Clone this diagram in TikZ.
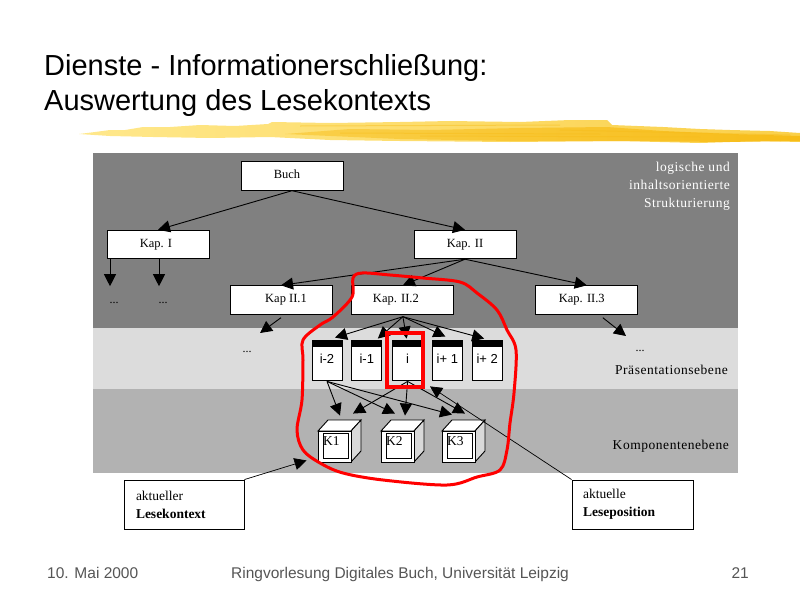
\documentclass[tikz,border=0pt]{standalone}
\usepackage{fontspec}
\setmainfont{Liberation Serif}
\setsansfont{Liberation Sans}
\usetikzlibrary{arrows.meta,positioning,calc}
\definecolor{banddark}{HTML}{808080}
\definecolor{bandlight}{HTML}{DCDCDC}
\definecolor{bandmid}{HTML}{B2B2B2}
\definecolor{brushl}{HTML}{FFE88C}
\definecolor{brushr}{HTML}{FAD04A}
\definecolor{brushd}{HTML}{F7BC18}
\definecolor{fussgrau}{HTML}{555555}
\newcommand{\schub}[3]{\kern#1pt\raisebox{#2pt}{#3}\kern-#1pt}
\tikzset{
  kap/.style    = {rectangle, draw=black, fill=white, line width=0.9pt, minimum width=102pt, minimum height=28.5pt,
                   inner sep=0pt, font=\fontsize{12.5}{13}\selectfont},
  seite/.style  = {rectangle, draw=black, fill=white, minimum width=30pt, minimum height=40pt,
                   inner sep=0pt, line width=0.8pt, font=\sffamily\fontsize{13}{15}\selectfont},
  ebene/.style  = {align=right, anchor=east, inner sep=0pt,
                   font=\addfontfeature{LetterSpace=4}\fontsize{13.5}{18}\selectfont},
  punkte/.style = {inner sep=0pt, font=\fontsize{12}{13}\selectfont},
  hinweis/.style = {rectangle, draw=black, fill=white, text width=120pt, minimum height=49pt, inner sep=0pt,
                   line width=0.9pt, align=left, font=\fontsize{13.5}{18}\selectfont},
  fuss/.style   = {inner sep=0pt, text=fussgrau, font=\sffamily\fontsize{15.5}{18}\selectfont},
  fl/.style     = {-{Triangle[length=12pt,width=12pt]}, line width=0.9pt, black},
  flt/.style    = {fl, line width=0.7pt},
}

\begin{document}
\begin{tikzpicture}[x=1pt,y=-1pt]
  \useasboundingbox (0,0) rectangle (800,600);

  % title and brush
  \node[anchor=west, align=left, inner sep=0pt, font=\sffamily\fontsize{29}{35}\selectfont] (titel) at (44,85)
    {Dienste - Informationerschließung:\\Auswertung des Lesekontexts};
  \shade[left color=brushl, right color=brushr]
    (79,134) -- (95,132) -- (110,130) -- (125,130) -- (143,127) -- (170,127) -- (200,125) -- (235,126) -- (268,124)
    -- (272,122) -- (330,123) -- (400,122) -- (450,121) -- (520,122) -- (570,120) -- (607,120) -- (612,125) -- (663,127)
    -- (700,129) -- (730,130) -- (770,131) -- (800,133)
    -- (800,142) -- (760,141) -- (700,143) -- (620,141) -- (510,142) -- (400,141) -- (330,140) -- (270,137) -- (210,138)
    -- (153,137) -- (110,136) -- cycle;
  \shade[left color=brushr, right color=brushd]
    (285,134) -- (350,129) -- (430,130) -- (520,128) -- (607,127) -- (663,131) -- (730,134) -- (800,136) -- (800,141)
    -- (720,142) -- (640,141) -- (510,141) -- (400,139) -- cycle;
  \foreach \xa/\xb/\ya/\yb in {300/560/126/125,420/700/136/137,560/790/130/135,340/600/133/134} {
    \draw[brushd, opacity=0.45, line width=1pt] (\xa,\ya) -- (\xb,\yb);
  }

  % bands
  \fill[banddark]  (93,153) rectangle (738,328);
  \fill[bandlight] (93,328) rectangle (738,389);
  \fill[bandmid]   (93,389) rectangle (738,473);

  % chapters
  \node[kap] (buch) at (292,176) {\schub{-5}{4}{Buch}};
  \node[kap] (kapi) at (158,244.5) {\schub{-2}{1}{Kap. I}};
  \node[kap] (kapii) at (465,244.5) {\schub{0}{1}{Kap. II}};
  \node[kap] (kapiia) at (281,300) {\schub{5}{4}{Kap II.1}};
  \node[kap, right=19pt of kapiia] (kapiib) {\schub{-7}{2}{Kap. II.2}};
  \node[kap, right=81pt of kapiib] (kapiic) {\schub{-5}{2}{Kap. II.3}};

  % pages
  \node[seite] (pa) at (327,360) {\schub{0}{2}{i-2}};
  \node[seite, right=9pt of pa] (pb) {\schub{0}{2}{i-1}};
  \node[seite, right=10pt of pb] (pc) {\schub{0}{2}{i}};
  \node[seite, right=9pt of pc] (pd) {\schub{0}{2}{i+ 1}};
  \node[seite, right=9pt of pd] (pe) {\schub{0}{2}{i+ 2}};
  \foreach \p in {pa,pb,pc,pd,pe}
    \fill[black] (\p.north west) rectangle ([yshift=-7pt]\p.north east);

  % components
  \foreach \n/\x/\t in {ka/318/K1,kb/381/K2,kc/442/K3} {
    \fill[white, draw=black, line width=0.9pt] (\x,431) -- ++(10,-11) -- ++(33,0) -- ++(-10,11) -- cycle;
    \fill[black!15, draw=black, line width=0.9pt] (\x+33,431) -- ++(10,-11) -- ++(0,31) -- ++(-10,11) -- cycle;
    \node[rectangle, draw=black, line width=0.9pt, fill=white, minimum width=33pt, minimum height=31pt, inner sep=0pt] (\n) at (\x+16.5,446.5) {};
    \node[rectangle, draw=black, line width=0.8pt, minimum width=25pt, minimum height=25pt, inner sep=0pt] (\n i) at (\x+17.5,445.5) {};
    \node[anchor=west, inner sep=0pt, font=\fontsize{13.5}{14}\selectfont] (\n t) at (\x+5,441.5) {\t};
  }

  % band labels and loose ends
  \node[ebene, text=white] (logik) at (730,186) {logische und\\inhaltsorientierte\\Strukturierung};
  \node[ebene] (praes) at (728,370) {Präsentationsebene};
  \node[ebene] (komp) at (729,446) {Komponentenebene};
  \node[punkte] (da) at (114,303) {...};
  \node[punkte] (db) at (163,303) {...};
  \node[punkte] (dc) at (247,352) {...};
  \node[punkte] (dd) at (640,351) {...};
  \coordinate (ec) at (260,333);
  \coordinate (ed) at (626,336);

  % notes
  \node[hinweis] (ktx) at (184,504.5) {\hspace*{12pt}aktueller\\\hspace*{12pt}\textbf{Lesekontext}};
  \node[hinweis, text width=121pt] (pos) at (632.5,504.5) {\hspace*{11pt}aktuelle\\\hspace*{11pt}\textbf{Leseposition}};

  \draw[fl] (buch.south) -- (kapi.north);
  \draw[fl] (buch.south) -- (kapii.north);
  \draw[fl] ([xshift=-48pt]kapi.south) -- ([xshift=-48pt,yshift=-27pt]kapi.south);
  \draw[fl] ([xshift=1pt]kapi.south) -- ([xshift=1pt,yshift=-27pt]kapi.south);
  \draw[fl] (kapii.south) -- (kapiia.north);
  \draw[fl] (kapii.south) -- (kapiib.north);
  \draw[fl] (kapii.south) -- (kapiic.north);
  \draw[fl] ([yshift=-3pt]kapiia.south) -- (ec);
  \draw[fl] ([xshift=16pt,yshift=-3pt]kapiic.south) -- (ed);

  \draw[fl] ([yshift=-2pt]kapiib.south) -- ([xshift=8pt,yshift=2pt]pa.north);
  \draw[fl] ([yshift=-2pt]kapiib.south) -- ([xshift=11pt,yshift=1pt]pb.north);
  \draw[fl] ([yshift=-2pt]kapiib.south) -- ([xshift=-1pt,yshift=1pt]pc.north);
  \draw[fl] ([yshift=-2pt]kapiib.south) -- ([xshift=-2pt,yshift=3pt]pd.north);
  \draw[fl] ([yshift=-2pt]kapiib.south) -- ([xshift=-3pt,yshift=1pt]pe.north);

  \draw[fl] ([yshift=-1pt]pa.south) -- ([xshift=5.5pt,yshift=15pt]ka.north);
  \draw[fl] ([yshift=-1pt]pa.south) -- ([xshift=-2.5pt,yshift=17pt]kb.north);
  \draw[fl] ([yshift=-1pt]pa.south) -- ([xshift=-6.5pt,yshift=16pt]kc.north);
  \draw[fl] ([yshift=-1pt]pc.south) -- ([xshift=18.5pt,yshift=17pt]ka.north);
  \draw[fl] ([yshift=-1pt]pc.south) -- ([xshift=7.5pt,yshift=15pt]kb.north);
  \draw[fl] ([yshift=-1pt]pc.south) -- ([xshift=6.5pt,yshift=17pt]kc.north);

  \draw[flt] (ktx.north east) -- ([xshift=-11pt,yshift=2pt]ka.south west);
  \draw[flt] (pos.north west) -- ([xshift=7pt,yshift=-6pt]pc.south east);

  % marking
  \draw[red, line width=4pt] (387,332.5) rectangle (423,387);
  \draw[red, line width=3pt, line join=round] plot[smooth cycle, tension=0.55] coordinates {
    (362,273) (353,278) (352,297) (333,317) (320,325) (303,340) (303,360) (302,400)
    (297,430) (303,450) (320,463) (343,473) (383,480) (447,485) (477,477) (500,470)
    (507,450) (510,423) (514,393) (516,350) (507,330) (497,310) (477,293) (460,282)
    (423,278) (390,275)};

  % footer
  \node[fuss, anchor=base west] (datum) at (47,578) {10. Mai 2000};
  \node[fuss, anchor=base west] (reihe) at (231,578) {Ringvorlesung Digitales Buch, Universität Leipzig};
  \node[fuss, anchor=base east] (folie) at (749,578) {21};
\end{tikzpicture}
\end{document}
